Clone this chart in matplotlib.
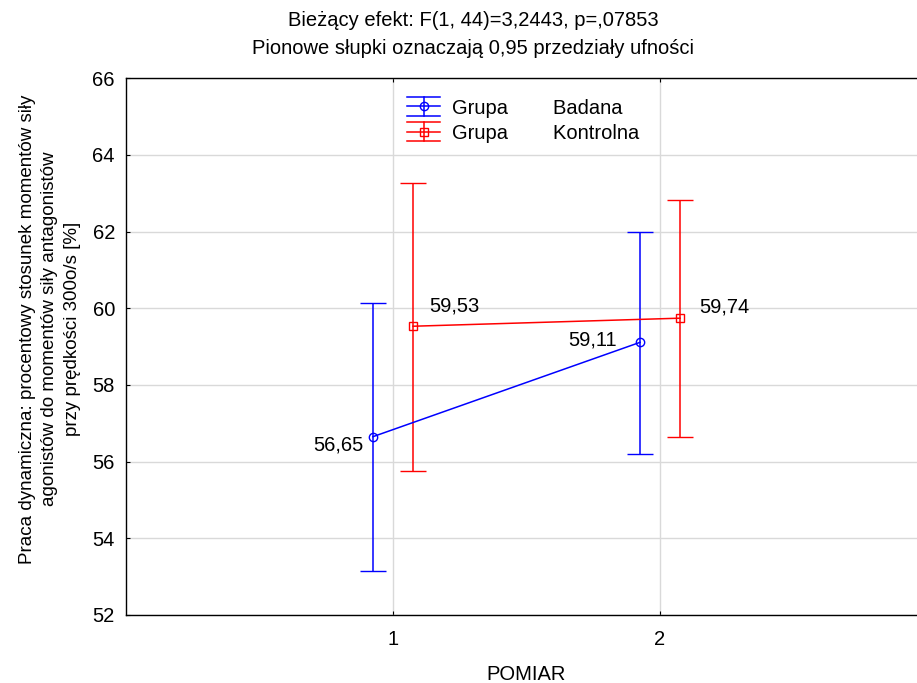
import matplotlib
matplotlib.use("Agg")
import matplotlib.pyplot as plt
from matplotlib.lines import Line2D
from matplotlib.legend_handler import HandlerBase

plt.rcParams['font.family'] = ['Liberation Sans', 'DejaVu Sans']

# data
pomiar = [1, 2]
badana_mean = [56.65, 59.11]
badana_lo = [53.15, 56.2]
badana_hi = [60.13, 61.98]
kontr_mean = [59.53, 59.74]
kontr_lo = [55.76, 56.63]
kontr_hi = [63.26, 62.82]
mean_labels_b = ["56,65", "59,11"]
mean_labels_k = ["59,53", "59,74"]
yticks = [52, 54, 56, 58, 60, 62, 64, 66]

FS = 14.5


class ErrHandler(HandlerBase):
    # Statistica-like legend key: three horizontal bars, a vertical bar and the marker
    def create_artists(self, legend, orig_handle, xdescent, ydescent, width, height, fontsize, trans):
        c = orig_handle.get_color()
        cy = height / 2 - ydescent
        x0 = -xdescent
        gap = 7.0
        arts = []
        for dy in (-gap, 0, gap):
            arts.append(Line2D([x0, x0 + width], [cy + dy, cy + dy], color=c, lw=1.1))
        arts.append(Line2D([x0 + width / 2] * 2, [cy - gap, cy + gap], color=c, lw=1.1))
        arts.append(Line2D([x0 + width / 2], [cy], color=c, marker=orig_handle.get_marker(),
                           mfc='none', ms=6, mew=1.0, ls='none'))
        for a in arts:
            a.set_transform(trans)
        return arts


fig = plt.figure(figsize=(9.17, 6.83), dpi=100)
ax = fig.add_axes([0.1374, 0.0996, 0.8736, 0.786])

shift = 0.075
xb = [x - shift for x in pomiar]
xk = [x + shift for x in pomiar]

err_b = [[m - l for m, l in zip(badana_mean, badana_lo)], [h - m for m, h in zip(badana_mean, badana_hi)]]
err_k = [[m - l for m, l in zip(kontr_mean, kontr_lo)], [h - m for m, h in zip(kontr_mean, kontr_hi)]]

cb = ax.errorbar(xb, badana_mean, yerr=err_b, color='#0000ff', marker='o', mfc='none', ms=6,
                 mew=1.0, lw=1.1, elinewidth=1.1, capsize=9.5, capthick=1.1, zorder=3)
ck = ax.errorbar(xk, kontr_mean, yerr=err_k, color='#ff0000', marker='s', mfc='none', ms=6,
                 mew=1.0, lw=1.1, elinewidth=1.1, capsize=9.5, capthick=1.1, zorder=3)

# value labels
ax.annotate(mean_labels_b[0], (xb[0], badana_mean[0]), xytext=(-7, -6), textcoords='offset points',
            ha='right', va='center', fontsize=FS)
ax.annotate(mean_labels_b[1], (xb[1], badana_mean[1]), xytext=(-17, 2), textcoords='offset points',
            ha='right', va='center', fontsize=FS)
ax.annotate(mean_labels_k[0], (xk[0], kontr_mean[0]), xytext=(11.5, 14.5), textcoords='offset points',
            ha='left', va='center', fontsize=FS)
ax.annotate(mean_labels_k[1], (xk[1], kontr_mean[1]), xytext=(14, 8), textcoords='offset points',
            ha='left', va='center', fontsize=FS)

ax.set_xlim(0, 3)
ax.set_ylim(52, 66)
ax.set_xticks(pomiar)
ax.set_yticks(yticks)
ax.tick_params(direction='in', length=3, labelsize=FS, top=True, pad=8)
ax.tick_params(axis='x', pad=11)
ax.grid(True, color='#d9d9d9', lw=1.0)
ax.set_axisbelow(True)
for s in ax.spines.values():
    s.set_linewidth(1.0)

fig.text(526 / 917, 1 - 674 / 683, 'POMIAR', ha='center', va='center', fontsize=FS)
fig.text(50 / 917, 1 - 329 / 683,
         'Praca dynamiczna: procentowy stosunek momentów siły\nagonistów do momentów siły antagonistów\nprzy prędkości 300o/s [%]',
         rotation=90, ha='center', va='center', fontsize=13.5, linespacing=1.4)

fig.text(473 / 917, 1 - 20 / 683, 'Bieżący efekt: F(1, 44)=3,2443, p=,07853', ha='center', va='center', fontsize=FS)
fig.text(473 / 917, 1 - 48 / 683, 'Pionowe słupki oznaczają 0,95 przedziały ufności', ha='center', va='center', fontsize=FS)

hb = cb.lines[0]
hk = ck.lines[0]
ax.legend([hb, hk], ['Grupa        Badana', 'Grupa        Kontrolna'],
          handler_map={hb: ErrHandler(), hk: ErrHandler()},
          loc='upper left', bbox_to_anchor=(0.351, 0.962), frameon=False, fontsize=FS,
          borderpad=0, borderaxespad=0, handlelength=1.65, handletextpad=0.6, labelspacing=0.3)

fig.savefig('out.png', dpi=100)
